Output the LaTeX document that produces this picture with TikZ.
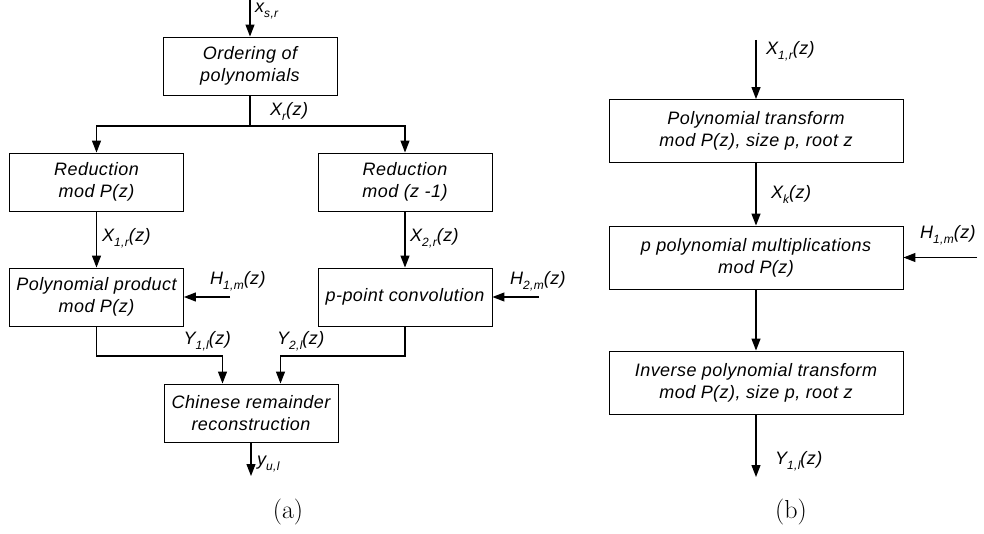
\documentclass[tikz,border=0pt]{standalone}
\usepackage{fontspec}
\setmainfont{Liberation Sans}[LetterSpace=2.5]
\newfontfamily\capfont{Latin Modern Roman}
\usetikzlibrary{arrows.meta}
\newcommand{\sbs}[1]{\raisebox{-5pt}{\fontsize{12}{12}\selectfont #1}}
\tikzset{
  blk/.style={draw, line width=0.9pt, minimum width=174pt, minimum height=58pt, align=center, inner sep=0pt,
    font=\fontsize{18}{22}\selectfont\itshape},
  wblk/.style={blk, minimum width=294pt, minimum height=63pt},
  arr/.style={line width=1.2pt, -{Triangle[width=9pt,length=12pt]}},
  ln/.style={line width=1.2pt},
  lbl/.style={inner sep=0pt, font=\fontsize{18}{22}\selectfont\itshape},
  captxt/.style={inner sep=0pt, font=\fontsize{26}{28}\selectfont\capfont}
}
\begin{document}
\begin{tikzpicture}[x=1pt,y=-1pt]
\useasboundingbox (0,0) rectangle (984,534);
% (a)
\node[blk] (ord) at (250,66) {Ordering of\\polynomials};
\node[blk] (redP) at (96.5,182) {Reduction\\mod P(z)};
\node[blk] (redZ) at (405,182) {Reduction\\mod (z -1)};
\node[blk] (prod) at (96.5,297) {Polynomial product\\mod P(z)};
\node[blk] (conv) at (405,297) {p-point convolution};
\node[blk] (crt) at (251,413) {Chinese remainder\\reconstruction};
\coordinate (xin) at (250,0);
\coordinate (j) at (250,126);
\coordinate (h1) at (230,297);
\coordinate (h2) at (539,297);
\coordinate (yout) at (251,476);
\coordinate (c1) at (222.5,356);
\coordinate (c2) at (280.5,356);
\draw[arr] (xin) -- (ord.north);
\draw[ln] (ord.south) -- (j);
\draw[arr] (j) -| (redP.north);
\draw[arr] (j) -| (redZ.north);
\draw[arr] (redP.south) -- (prod.north);
\draw[arr] (redZ.south) -- (conv.north);
\draw[arr] (h1) -- (prod.east);
\draw[arr] (h2) -- (conv.east);
\draw[arr] (prod.south) |- (c1) -- (c1 |- crt.north);
\draw[arr] (conv.south) |- (c2) -- (c2 |- crt.north);
\draw[arr] (crt.south) -- (yout);
\node[lbl, anchor=west] (lx) at (255,11) {x\sbs{s,r}};
\node[lbl, anchor=west] (lxr) at (270,111) {X\sbs{r}(z)};
\node[lbl, anchor=west] (lx1) at (102,238) {X\sbs{1,r}(z)};
\node[lbl, anchor=west] (lx2) at (410,238) {X\sbs{2,r}(z)};
\node[lbl, anchor=west] (lh1) at (210,281) {H\sbs{1,m}(z)};
\node[lbl, anchor=west] (lh2) at (510,281) {H\sbs{2,m}(z)};
\node[lbl, anchor=east] (ly1) at (231,341) {Y\sbs{1,l}(z)};
\node[lbl, anchor=west] (ly2) at (277,341) {Y\sbs{2,l}(z)};
\node[lbl, anchor=west] (lyu) at (257,464) {y\sbs{u,l}};
\node[captxt] (capa) at (288,512) {(a)};
% (b)
\node[wblk] (pt) at (756,131) {Polynomial transform\\mod P(z), size p, root z};
\node[wblk] (pm) at (756,257.5) {p polynomial multiplications\\mod P(z)};
\node[wblk] (inv) at (756,382.5) {Inverse polynomial transform\\mod P(z), size p, root z};
\coordinate (bin) at (756,40);
\coordinate (bh) at (977,257.5);
\coordinate (bout) at (756,477);
\draw[arr] (bin) -- (pt.north);
\draw[arr] (pt.south) -- (pm.north);
\draw[arr] (bh) -- (pm.east);
\draw[arr] (pm.south) -- (inv.north);
\draw[arr] (inv.south) -- (bout);
\node[lbl, anchor=west] (lbx) at (766,51) {X\sbs{1,r}(z)};
\node[lbl, anchor=west] (lbk) at (771,194) {X\sbs{k}(z)};
\node[lbl, anchor=west] (lbh) at (920,235) {H\sbs{1,m}(z)};
\node[lbl, anchor=west] (lby) at (775,461) {Y\sbs{1,l}(z)};
\node[captxt] (capb) at (791,512) {(b)};
\end{tikzpicture}
\end{document}
